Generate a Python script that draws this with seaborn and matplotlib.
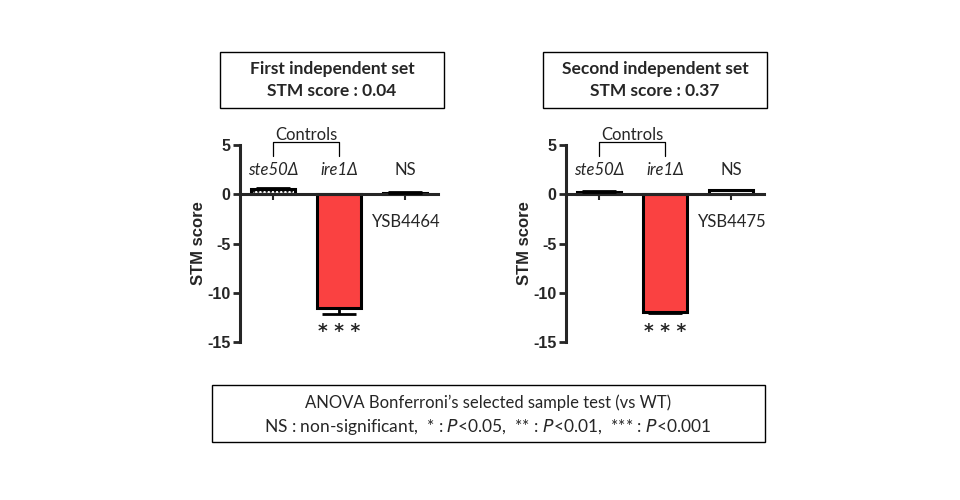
import matplotlib
matplotlib.use("Agg")
import matplotlib.pyplot as plt
import seaborn as sns
import pandas as pd
from matplotlib.patches import Rectangle

categories = ["ste50Δ", "ire1Δ", "NS"]
set1_values = [0.5, -11.55, 0.15]
set1_errors = [0.1, 0.6, 0.05]
set2_values = [0.25, -11.95, 0.4]
set2_errors = [0.05, 0.15, 0.05]
set_titles = ["First independent set\nSTM score : 0.04", "Second independent set\nSTM score : 0.37"]
strain_labels = ["YSB4464", "YSB4475"]
yticks = [5, 0, -5, -10, -15]
ytick_labels = ["5", "0", "-5", "-10", "-15"]

sns.set_style("white")
plt.rcParams['font.family'] = ['Lato', 'DejaVu Sans']

RED = "#FA4141"
fig = plt.figure(figsize=(9.6, 5), dpi=100)

panels = [
    (240, set1_values, set1_errors, strain_labels[0], set_titles[0], 220),
    (566, set2_values, set2_errors, strain_labels[1], set_titles[1], 543),
]

for left_px, vals, errs, strain, title, box_left in panels:
    ax = fig.add_axes([left_px / 960, 1 - 342 / 500, 198 / 960, (342 - 145) / 500])
    df = pd.DataFrame({"cat": categories, "val": vals})
    sns.barplot(data=df, x="cat", y="val", hue="cat", order=categories,
                palette={categories[0]: "white", categories[1]: RED, categories[2]: "white"},
                saturation=1, width=0.67, edgecolor="black", linewidth=2.2, legend=False, ax=ax)
    if left_px == 240:
        ax.patches[0].set_hatch("....")
    ax.errorbar(range(len(categories)), vals, yerr=[[e if v < 0 else 0 for v, e in zip(vals, errs)],
                                                     [e if v >= 0 else 0 for v, e in zip(vals, errs)]],
                fmt="none", ecolor="black", elinewidth=2, capsize=12, capthick=2, zorder=3)
    ax.set_xlim(-0.5, 2.5)
    ax.set_ylim(-15, 5)
    ax.set_yticks(yticks)
    ax.set_yticklabels(ytick_labels, fontdict={"family": "Liberation Sans", "weight": "bold", "size": 11.5})
    ax.set_xlabel("")
    ax.set_ylabel("STM score", family="Liberation Sans", weight="bold", fontsize=12, labelpad=1)
    for s in ["top", "right"]:
        ax.spines[s].set_visible(False)
    ax.spines["left"].set_linewidth(2.2)
    ax.spines["bottom"].set_linewidth(2.2)
    ax.spines["bottom"].set_position(("data", 0))
    ax.set_xticks(range(len(categories)))
    ax.set_xticklabels([])
    ax.tick_params(axis="y", direction="out", length=5, width=2, left=True, pad=2)
    ax.tick_params(axis="x", direction="out", length=4, width=1.5, bottom=True)
    # category labels
    ax.text(0, 2.45, "ste50Δ", style="italic", fontsize=12, ha="center", va="center", clip_on=False)
    ax.text(1, 2.45, "ire1Δ", style="italic", fontsize=12, ha="center", va="center", clip_on=False)
    ax.text(2, 2.45, "NS", fontsize=12, ha="center", va="center", clip_on=False)
    # controls bracket
    ax.plot([0, 0, 1, 1], [3.85, 5.3, 5.3, 3.85], color="black", lw=0.9, clip_on=False)
    ax.text(0.5, 6.0, "Controls", fontsize=12, ha="center", va="center", clip_on=False)
    ax.text(2.02, -2.85, strain, fontsize=12, ha="center", va="center", clip_on=False)
    ax.text(1, -13.95, "* * *", family="DejaVu Sans", fontsize=13.5, weight="bold",
            ha="center", va="center", clip_on=False)
    # title box
    fig.patches.append(Rectangle((box_left / 960, 1 - 108 / 500), 224 / 960, 56 / 500,
                                 transform=fig.transFigure, fill=False, edgecolor="black", lw=1))
    fig.text((box_left + 112) / 960, 1 - 80 / 500, title, ha="center", va="center",
             fontsize=12.5, weight="bold", linespacing=1.4)

fig.patches.append(Rectangle((212 / 960, 1 - 442 / 500), 553 / 960, 57 / 500,
                             transform=fig.transFigure, fill=False, edgecolor="black", lw=1))
fig.text(488 / 960, 1 - 403 / 500, "ANOVA Bonferroni’s selected sample test (vs WT)",
         ha="center", va="center", fontsize=12)
fig.text(488 / 960, 1 - 427 / 500,
         r"NS : non-significant,  * : $\it{P}$<0.05,  ** : $\it{P}$<0.01,  *** : $\it{P}$<0.001",
         ha="center", va="center", fontsize=12.5)

fig.savefig("out.png", dpi=100)
